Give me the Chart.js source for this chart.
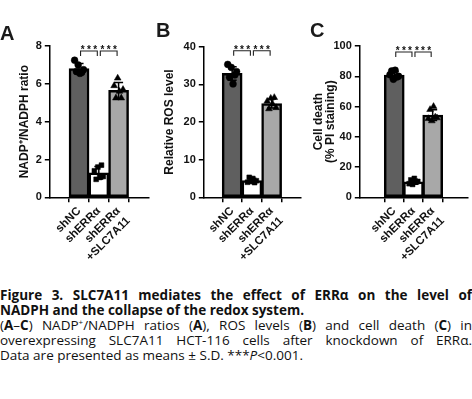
<!DOCTYPE html>
<html><head><meta charset="utf-8">
<script src="https://cdn.jsdelivr.net/npm/chart.js@4.4.1/dist/chart.umd.min.js"></script>
<style>
body{margin:0;width:472px;height:399px;background:#fff;position:relative;overflow:hidden}
canvas{position:absolute;top:0}
.lt{position:absolute;font:bold 20px 'Liberation Sans',Arial,sans-serif;line-height:20px;color:#1a1a1a}
#cap{position:absolute;left:0;top:288px;width:472px;font:13.5px 'Open Sans',sans-serif;line-height:15px;color:#111}
#cap .j{text-align:justify;text-align-last:justify}
#cap sup{font-size:8px;line-height:0;vertical-align:5px}
</style></head>
<body>
<canvas id="cA" width="155" height="285" style="left:0px"></canvas>
<canvas id="cB" width="155" height="285" style="left:150px"></canvas>
<canvas id="cC" width="167" height="285" style="left:305px"></canvas>
<div class="lt" style="left:0px;top:23px">A</div>
<div class="lt" style="left:156px;top:20px">B</div>
<div class="lt" style="left:310px;top:20px">C</div>
<div id="cap">
<div class="j"><b>Figure 3. SLC7A11 mediates the effect of ERRα on the level of</b></div>
<div><b>NADPH and the collapse of the redox system.</b></div>
<div class="j">(<b>A</b>–<b>C</b>) NADP<sup>+</sup>/NADPH ratios (<b>A</b>), ROS levels (<b>B</b>) and cell death (<b>C</b>) in</div>
<div class="j">overexpressing SLC7A11 HCT-116 cells after knockdown of ERRα.</div>
<div>Data are presented as means ± S.D. ***<i>P</i>&lt;0.001.</div>
</div>
<script>
// ---- data ----
const categories = ['shNC', 'shERRα', ['shERRα', '+SLC7A11']];
const comparisons = [[0, 1], [1, 2]];
const sigLabel = '***';

const nadpMeans = [6.8, 1.3, 5.65];
const nadpSD = [0.28, 0.33, 0.42];
const nadpPoints = [[7.25, 6.65, 7.0, 6.55, 6.6, 6.75], [1.4, 0.95, 1.6, 1.05, 1.7, 1.1], [5.9, 5.25, 6.3, 5.6, 5.25, 5.7]];
const nadpTicks = [0, 2, 4, 6, 8];

const rosMeans = [32.9, 4.45, 24.9];
const rosSD = [1.8, 0.6, 1.2];
const rosPoints = [[35.3, 31.9, 34.5, 30.1, 32.5, 33.4], [4.0, 5.3, 4.2, 5.0, 3.9, 4.4], [25.5, 23.5, 26.3, 24.8, 26.5, 23.8]];
const rosTicks = [0, 10, 20, 30, 40];

const deathMeans = [80.8, 10.3, 54.3];
const deathSD = [2.4, 1.6, 3.6];
const deathPoints = [[81, 83.5, 78, 84, 79.5, 80], [9, 11.5, 8.5, 12.5, 10, 10.5], [52, 58, 50.5, 60, 53, 52.5]];
const deathTicks = [0, 20, 40, 60, 80, 100];

// ---- styling ----
const barColors = ['#5f5f5f', '#ffffff', '#a8a8a8'];
const pointStyles = ['circle', 'rect', 'triangle'];
const FONT = "'Liberation Sans', Arial, sans-serif";

function statsPlugin(means, sds, gap) {
  return {
    id: 'stats',
    afterDatasetsDraw(chart) {
      const {ctx, chartArea} = chart;
      const x = chart.scales.x, y = chart.scales.y;
      ctx.save();
      ctx.strokeStyle = '#000';
      ctx.lineWidth = 1.5;
      means.forEach((m, i) => {
        const px = x.getPixelForValue(i);
        const yt = y.getPixelForValue(m + sds[i]);
        const yb = y.getPixelForValue(m - sds[i]);
        ctx.beginPath();
        ctx.moveTo(px, yt); ctx.lineTo(px, yb);
        ctx.moveTo(px - 4.5, yt); ctx.lineTo(px + 4.5, yt);
        ctx.moveTo(px - 4.5, yb); ctx.lineTo(px + 4.5, yb);
        ctx.stroke();
      });
      const by = chartArea.top + gap;
      ctx.lineWidth = 1.1;
      ctx.strokeStyle = '#222';
      ctx.fillStyle = '#111';
      ctx.font = 'bold 10px ' + FONT;
      ctx.textAlign = 'center';
      ctx.textBaseline = 'alphabetic';
      comparisons.forEach(pair => {
        const x1 = x.getPixelForValue(pair[0]) + 1.5, x2 = x.getPixelForValue(pair[1]) - 1.5;
        ctx.beginPath();
        ctx.moveTo(x1, by + 5); ctx.lineTo(x1, by); ctx.lineTo(x2, by); ctx.lineTo(x2, by + 5);
        ctx.stroke();
        const mid = (x1 + x2) / 2;
        const chars = sigLabel.split('');
        chars.forEach((c, k) => ctx.fillText(c, mid + (k - (chars.length - 1) / 2) * 6.2, by + 1.8));
      });
      ctx.restore();
    }
  };
}

function makePanel(id, L, means, sds, points, ticks, title) {
  const ppu = (L.c2 - L.c0) / 2;
  const xmin = -(L.c0 - L.axisX) / ppu;
  const xmax = 2 + (L.end - L.c2) / ppu;
  const scatterSets = points.map((vals, g) => ({
    type: 'scatter',
    data: vals.map((v, j) => ({x: g + (j - (vals.length - 1) / 2) * 0.09, y: v})),
    pointStyle: pointStyles[g],
    pointRadius: g === 2 ? 3.9 : 3.4,
    pointBackgroundColor: '#000',
    pointBorderColor: '#000',
    pointBorderWidth: 0.5,
    order: 1,
    clip: false
  }));
  new Chart(document.getElementById(id), {
    type: 'bar',
    data: {
      datasets: [{
        type: 'bar',
        data: means.map((m, i) => ({x: i, y: m})),
        backgroundColor: barColors,
        borderColor: '#000',
        borderWidth: 2.5,
        borderSkipped: false,
        barThickness: 20,
        order: 2
      }, ...scatterSets]
    },
    options: {
      responsive: false,
      animation: false,
      devicePixelRatio: 1,
      layout: {padding: {left: 0, top: L.top, right: L.cw - (L.end - L.x0), bottom: 0}},
      plugins: {
        legend: {display: false},
        tooltip: {enabled: false}
      },
      scales: {
        x: {
          type: 'linear',
          min: xmin, max: xmax,
          afterBuildTicks: s => { s.ticks = categories.map((c, i) => ({value: i})); },
          afterFit: s => { s.height = 285 - L.bottom; },
          ticks: {
            callback: v => categories[v],
            minRotation: 45, maxRotation: 45,
            autoSkip: false,
            color: '#111',
            font: {family: FONT, weight: 'bold', size: 11.5},
            padding: 2
          },
          grid: {display: true, drawOnChartArea: false, drawTicks: true, tickLength: 5, color: '#000', lineWidth: 1.5},
          border: {display: true, color: '#000', width: 1.5}
        },
        y: {
          min: ticks[0], max: ticks[ticks.length - 1],
          afterBuildTicks: s => { s.ticks = ticks.map(v => ({value: v})); },
          afterFit: s => { s.width = L.axisX - L.x0; },
          ticks: {color: '#111', font: {family: FONT, weight: 'bold', size: 11}, padding: 3},
          grid: {display: true, drawOnChartArea: false, drawTicks: true, tickLength: 4.5, color: '#000', lineWidth: 1.5},
          border: {display: true, color: '#000', width: 1.5},
          title: {
            display: true, text: title, color: '#111',
            font: {family: FONT, weight: 'bold', size: 12, lineHeight: L.tlh},
            padding: {top: L.tpad, bottom: 0}
          }
        }
      }
    },
    plugins: [statsPlugin(means, sds, L.gap)]
  });
}

makePanel('cA', {x0: 0, cw: 155, axisX: 49.3, c0: 69, c2: 128.3, end: 149, top: 46, bottom: 197.3, gap: 5, tlh: 1.2, tpad: 17.8},
  nadpMeans, nadpSD, nadpPoints, nadpTicks, 'NADP⁺/NADPH ratio');
makePanel('cB', {x0: 150, cw: 155, axisX: 203.3, c0: 222.5, c2: 282.3, end: 301.5, top: 46.7, bottom: 197.3, gap: 4, tlh: 1.2, tpad: 12.8},
  rosMeans, rosSD, rosPoints, rosTicks, 'Relative ROS level');
makePanel('cC', {x0: 305, cw: 167, axisX: 359.3, c0: 385.5, c2: 445, end: 471, top: 46, bottom: 197.3, gap: 6, tlh: 1.0, tpad: 8},
  deathMeans, deathSD, deathPoints, deathTicks, ['Cell death', '(% PI staining)']);
</script>
</body></html>
